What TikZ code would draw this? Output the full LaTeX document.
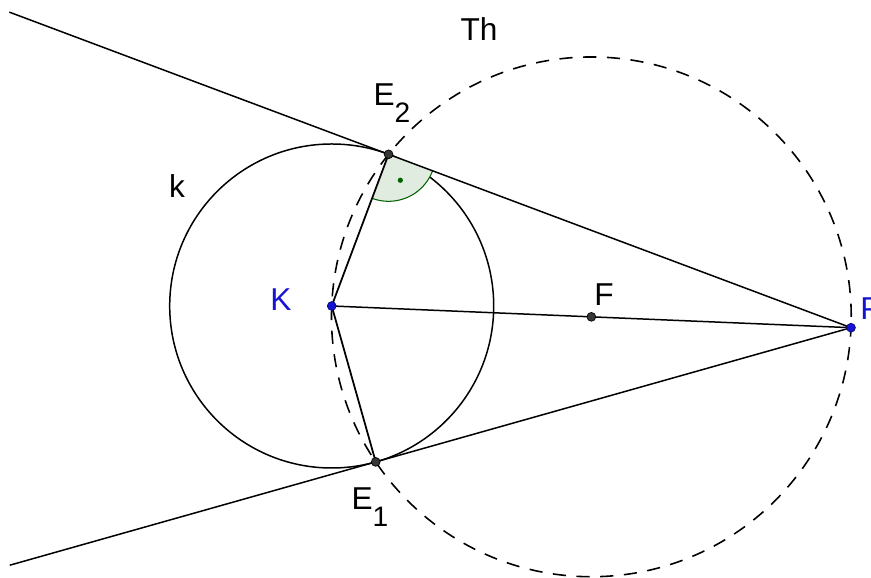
\documentclass[tikz,border=0pt]{standalone}
\usepackage{fontspec}
\setmainfont{Liberation Sans}
\usetikzlibrary{calc,angles}
\definecolor{gbl}{RGB}{20,20,210}
\definecolor{ggr}{RGB}{0,100,0}
\definecolor{gpt}{RGB}{55,55,55}
\newcommand\lsub[1]{\raisebox{-0.55em}{\fontsize{16}{16}\selectfont #1}}

\begin{document}
\begin{tikzpicture}[
  lbl/.style={font=\fontsize{18}{20}\selectfont,inner sep=0pt},
  dotpt/.style={circle,fill=gpt,draw=black,line width=0.4pt,minimum size=5pt,inner sep=0pt},
  bluept/.style={dotpt,fill=gbl,draw=gbl!60!black},
  thales/.style={dash pattern=on 7.5pt off 6pt,line width=0.9pt},
  seg/.style={line width=0.85pt}
]
\useasboundingbox (0,0) rectangle (17.42,11.56);
\coordinate (K) at (6.634,5.44);
\coordinate (P) at (17.02,5.006);
\coordinate (F) at ($(K)!0.5!(P)$);
% circle k and the tangent points
\node[circle,draw,line width=0.85pt,minimum size=6.48cm,inner sep=0pt,outer sep=0pt] (k) at (K) {};
\coordinate (E2) at (tangent cs:node=k,point={(P)},solution=1);
\coordinate (E1) at (tangent cs:node=k,point={(P)},solution=2);
\coordinate (T2) at ($(P)!1.82!(E2)$);
\coordinate (T1) at ($(P)!1.77!(E1)$);
% Thales circle
\draw[thales] let \p1=($(P)-(K)$), \n1={veclen(\x1,\y1)/2} in (F) circle (\n1);
% right angle at E2
\pic[draw=ggr,fill=ggr!12,line width=0.6pt,angle radius=0.94cm] {angle=K--E2--P};
\node[circle,fill=ggr,inner sep=0pt,minimum size=3pt] (rd) at ($(E2)+(294.35:0.57)$) {};
\draw[seg] (P) -- (T2);
\draw[seg] (P) -- (T1);
\draw[seg] (K) -- (P);
\draw[seg,line width=1pt] (K) -- (E2);
\draw[seg,line width=1pt] (K) -- (E1);
% points
\node[bluept] (pK) at (K) {};
\node[bluept] (pP) at (P) {};
\node[dotpt] (pF) at (F) {};
\node[dotpt] (pE2) at (E2) {};
\node[dotpt] (pE1) at (E1) {};
% labels
\node[lbl] (lTh) at (9.58,10.98) {Th};
\node[lbl] (lk) at (3.54,7.84) {k};
\node[lbl,text=gbl] (lK) at (5.62,5.56) {K};
\node[lbl] (lF) at (12.08,5.66) {F};
\node[lbl,text=gbl,anchor=west] (lP) at (17.2,5.38) {P};
\node[lbl] (lE2) at (7.84,9.5) {E\lsub{2}};
\node[lbl] (lE1) at (7.4,1.42) {E\lsub{1}};
\end{tikzpicture}
\end{document}
